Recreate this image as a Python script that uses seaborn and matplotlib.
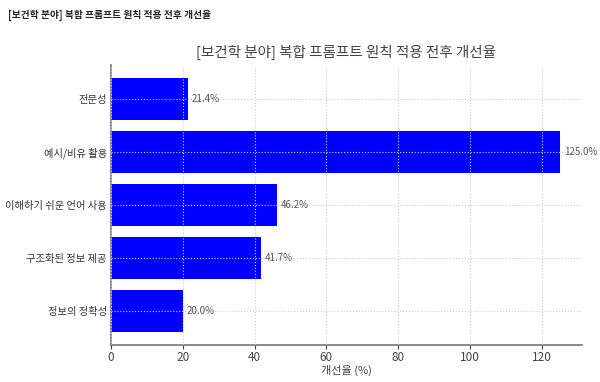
import numpy as np
import pandas as pd
import matplotlib
matplotlib.use("Agg")
import matplotlib.pyplot as plt
import seaborn as sns

sns.set_theme(style="white")
plt.rcParams['font.family'] = ['Noto Sans CJK KR', 'DejaVu Sans']

categories = ["전문성", "예시/비유 활용", "이해하기 쉬운 언어 사용", "구조화된 정보 제공", "정보의 정확성"]
improvement = [21.4, 125.0, 46.2, 41.7, 20.0]
header = "[보건학 분야] 복합 프롬프트 원칙 적용 전후 개선율"

df = pd.DataFrame({"항목": categories, "개선율": improvement})

fig = plt.figure(figsize=(6, 3.82), dpi=100)
ax = fig.add_axes([0.185, 0.097, 0.785, 0.733])

sns.barplot(data=df, x="개선율", y="항목", color="#0000ff", saturation=1,
            width=0.8, ax=ax, edgecolor="none")

ax.set_ylim(4.64, -0.64)
ax.set_xlim(0, 131.25)
ax.set_xticks([0, 20, 40, 60, 80, 100, 120])

ax.set_axisbelow(False)
ax.grid(True, linestyle=":", color="#cccccc", linewidth=0.8)
for s in ["top", "right"]:
    ax.spines[s].set_visible(False)
for s in ["left", "bottom"]:
    ax.spines[s].set_color("#777777")
    ax.spines[s].set_linewidth(1.2)

ax.tick_params(axis="x", labelsize=8.5, colors="#444444", length=3, width=0.8, bottom=True, pad=1)
ax.tick_params(axis="y", labelsize=7.4, colors="#333333", length=0, pad=3)
ax.set_ylabel("")
ax.set_xlabel("개선율 (%)", fontsize=8, color="#444444", labelpad=1)
ax.set_title(header, fontsize=10.5, color="#444444", pad=6)

for i, v in enumerate(improvement):
    ax.text(v + 1.2, i, f"{v:.1f}%", va="center", ha="left", fontsize=7, color="#555555")

fig.text(0.013, 0.96, header, fontsize=7, fontweight="bold", color="#222222", va="center")

fig.savefig("out.png", dpi=100)
